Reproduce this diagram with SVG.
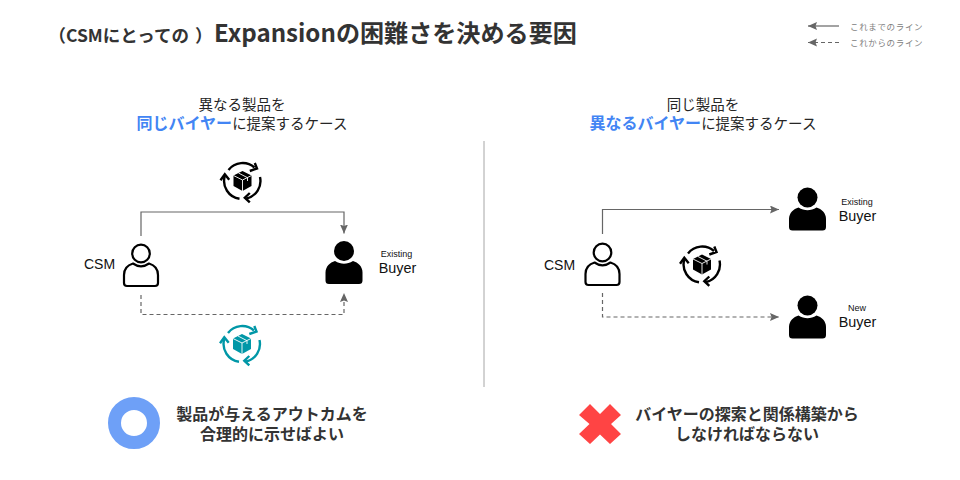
<svg xmlns="http://www.w3.org/2000/svg" width="960" height="480" viewBox="0 0 960 480">
<style>
text{font-family:"Noto Sans CJK JP","Noto Sans",sans-serif;fill:#333}
.h{font-size:14.500px;text-anchor:middle;fill:#262626}
.b{fill:#4285f4;font-weight:700;font-size:16px}
.c{font-size:16px;font-weight:700;text-anchor:middle;fill:#333}
.l{font-size:8.500px;fill:#808080;letter-spacing:.65px}
.a{font-family:"Liberation Sans",Arial,sans-serif;fill:#111}
.big{font-size:14.400px;text-anchor:middle}
.csm{font-size:14px;text-anchor:middle}
.sm{font-size:9px;text-anchor:middle}
.s{fill:none;stroke:#666;stroke-width:1.2}
.d{stroke-dasharray:4 3}
</style>
<defs>
<marker id="ah" markerUnits="userSpaceOnUse" markerWidth="10" markerHeight="9" refX="9" refY="4" orient="auto"><path d="M0 0L9 4L0 8L1.500 4Z" fill="#666"/></marker>
<g id="po"><circle cx="0" cy="-13.500" r="8.800" fill="none" stroke="#000" stroke-width="2.200"/><path d="M-8-3.500C-13-2-17 2-17 8V16Q-17 19-14 19H14Q17 19 17 16V8C17 2 13-2 8-3.500C3 0-3 0-8-3.500Z" fill="none" stroke="#000" stroke-width="2.200" stroke-linejoin="round"/></g>
<g id="pf"><circle cx="0" cy="-13.500" r="10"/><path d="M-9-3.500C-14-2-18.500 2-18.500 8V16Q-18.500 19.500-15 19.500H15Q18.500 19.500 18.500 16V8C18.500 2 14-2 9-3.500C3 0-3 0-9-3.500Z"/></g>
<g id="cy">
<path d="M-14-11A18 18 0 0 1 12-13.500M17.500-4A18 18 0 0 1 4 17.500M-3 17.800A18 18 0 0 1-17.700-5" fill="none" stroke="currentColor" stroke-width="2.400"/>
<path d="M12.300-18L14.500-12.500L7.300-10M7.300 12L2.300 16.700L7.300 21.300M-22-.7L-17.700-6.700L-13.300-1.300" fill="none" stroke="currentColor" stroke-width="2.400"/>
<path d="M0-10L9-5.500V5L0 10L-9 5V-5.500Z" fill="currentColor"/>
<path d="M-9-5.500L0-1L9-5.500M0-1V10M-4-8L5-3.300V0" fill="none" stroke="#fff" stroke-width=".9"/>
</g>
</defs>

<g id="title"><text x="48.500" y="42" font-size="17.500" font-weight="700">（CSMにとっての<tspan dx="6">）</tspan></text><text x="214" y="42" font-size="24.100" font-weight="700">Expansionの困難さを決める要因</text></g>

<g id="legend">
<path class="s" d="M839 26H808" marker-end="url(#ah)"/>
<path class="s d" d="M839 42.500H808" marker-end="url(#ah)"/>
<text class="l" x="850" y="30">これまでのライン</text>
<text class="l" x="850" y="46">これからのライン</text>
</g>

<g id="connectors">
<path class="s" d="M141 236V212H344V233.500" marker-end="url(#ah)"/>
<path class="s d" d="M141 295V314.500H344V293" marker-end="url(#ah)"/>
<path class="s" d="M602.500 234V209.500H779" marker-end="url(#ah)"/>
<path class="s d" d="M602.500 293V317H779" marker-end="url(#ah)"/>
</g>

<line id="divider" x1="484" y1="141" x2="484" y2="387" stroke="#a6a6a6" stroke-width="1"/>

<g id="heading-left"><text class="h" x="242" y="110">異なる製品を</text><text class="h" x="242" y="129"><tspan class="b">同じバイヤー</tspan>に提案するケース</text></g>
<g id="heading-right"><text class="h" x="703" y="110">同じ製品を</text><text class="h" x="703" y="129"><tspan class="b">異なるバイヤー</tspan>に提案するケース</text></g>

<g id="cycle-left-top" color="#000"><use href="#cy" x="242.500" y="181"/></g>
<g id="cycle-left-bottom" color="#0097a7"><use href="#cy" x="242" y="344"/></g>
<g id="cycle-right" color="#000"><use href="#cy" x="702" y="264.500"/></g>

<g id="csm-left"><use href="#po" x="141" y="267"/><text class="a csm" x="99.500" y="269">CSM</text></g>
<g id="buyer-left"><use href="#pf" x="344" y="264.500"/><text class="a sm" x="396.500" y="257">Existing</text><text class="a big" x="397.500" y="273">Buyer</text></g>
<g id="csm-right"><use href="#po" x="602.500" y="266"/><text class="a csm" x="559.500" y="270">CSM</text></g>
<g id="buyer-existing"><use href="#pf" x="807.500" y="211"/><text class="a sm" x="857" y="205">Existing</text><text class="a big" x="857.500" y="221">Buyer</text></g>
<g id="buyer-new"><use href="#pf" x="807.500" y="319"/><text class="a sm" x="857" y="311">New</text><text class="a big" x="857.500" y="327">Buyer</text></g>

<g id="verdict-left"><circle cx="134" cy="423" r="19.500" fill="none" stroke="#6ea0f7" stroke-width="13"/><text class="c"><tspan x="272" y="420">製品が与えるアウトカムを</tspan><tspan x="272" y="440">合理的に示せばよい</tspan></text></g>
<g id="verdict-right"><path d="M590 404L600 414L610 404L621 415L611 424L621 434L610 444L600 434.500L590 444L579 434L589.500 424L579 415Z" fill="#ff4444"/><text class="c"><tspan x="747" y="420">バイヤーの探索と関係構築から</tspan><tspan x="747" y="440">しなければならない</tspan></text></g>
</svg>
